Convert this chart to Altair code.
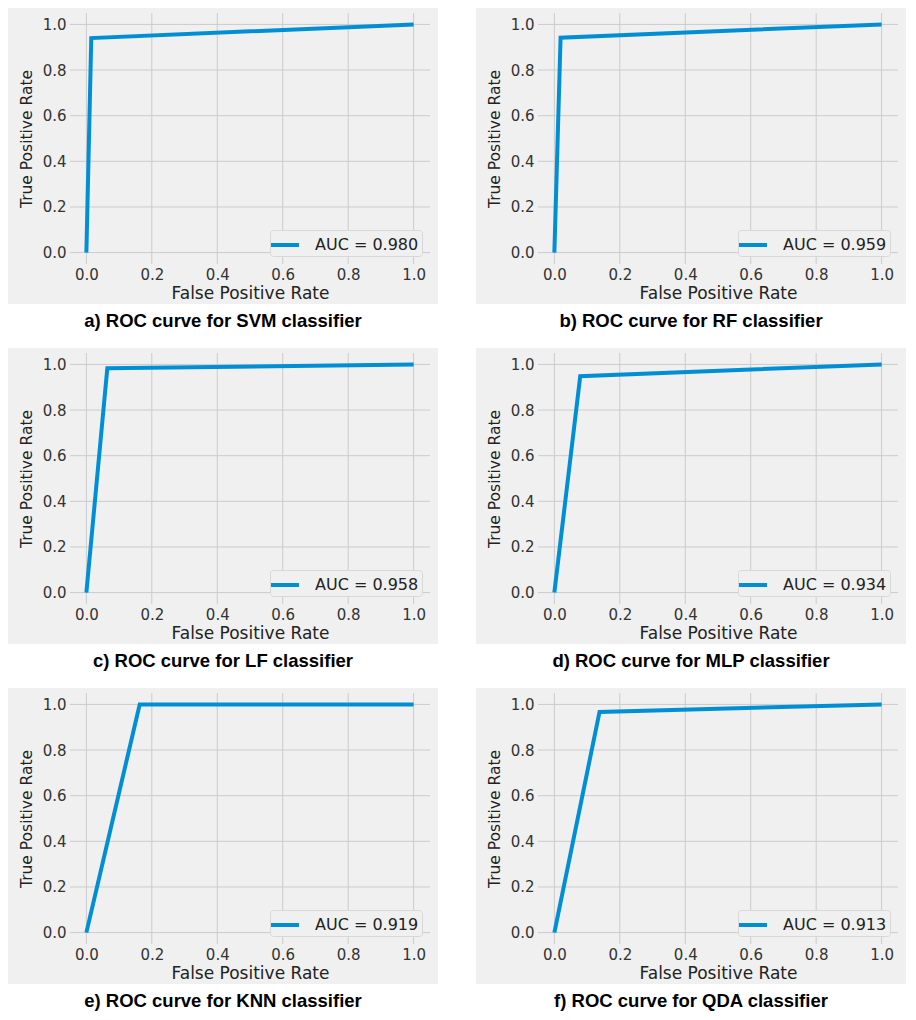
import altair as alt
import pandas as pd

# ---- data ----
captions = [
    "a) ROC curve for SVM classifier",
    "b) ROC curve for RF classifier",
    "c) ROC curve for LF classifier",
    "d) ROC curve for MLP classifier",
    "e) ROC curve for KNN classifier",
    "f) ROC curve for QDA classifier",
]
auc_labels = ["AUC = 0.980", "AUC = 0.959", "AUC = 0.958", "AUC = 0.934", "AUC = 0.919", "AUC = 0.913"]

fpr_svm = [0.0, 0.015, 1.0]
tpr_svm = [0.0, 0.940, 1.0]
fpr_rf = [0.0, 0.019, 1.0]
tpr_rf = [0.0, 0.942, 1.0]
fpr_lf = [0.0, 0.064, 1.0]
tpr_lf = [0.0, 0.983, 1.0]
fpr_mlp = [0.0, 0.079, 1.0]
tpr_mlp = [0.0, 0.948, 1.0]
fpr_knn = [0.0, 0.163, 1.0]
tpr_knn = [0.0, 1.000, 1.0]
fpr_qda = [0.0, 0.138, 1.0]
tpr_qda = [0.0, 0.967, 1.0]

fprs = [fpr_svm, fpr_rf, fpr_lf, fpr_mlp, fpr_knn, fpr_qda]
tprs = [tpr_svm, tpr_rf, tpr_lf, tpr_mlp, tpr_knn, tpr_qda]

tick_values = [0.0, 0.2, 0.4, 0.6, 0.8, 1.0]

# ---- styling ----
W, H = 360, 251
LEFT, RIGHT, TOP, BOTTOM = 62, 8, 5, 40
BG = "#f0f0f0"
GRID = "#cbcbcb"
BLUE = "#008fd5"
FONT = "DejaVu Sans"


def panel(i):
    df = pd.DataFrame({"fpr": fprs[i], "tpr": tprs[i], "label": [auc_labels[i]] * len(fprs[i])})
    ticks = pd.DataFrame({"t": tick_values})
    xs = alt.Scale(domain=[-0.05, 1.05], nice=False, zero=False)
    ys = alt.Scale(domain=[-0.05, 1.05], nice=False, zero=False)
    common = dict(values=tick_values, format=".1f", domain=False, ticks=False, grid=False, zindex=2,
                  labelFont=FONT, labelFontSize=15, labelColor="#333333",
                  titleFont=FONT, titleFontWeight="normal", titleColor="#222222")
    xaxis = alt.Axis(title="False Positive Rate", labelPadding=3, titlePadding=3,
                     titleFontSize=17, **common)
    yaxis = alt.Axis(title="True Positive Rate", labelPadding=4, titlePadding=8,
                     titleFontSize=15.5, **common)

    bg = alt.Chart(pd.DataFrame({"a": [0]})).mark_rect(fill=BG).encode(
        x=alt.value(-LEFT), x2=alt.value(W + RIGHT),
        y=alt.value(-TOP), y2=alt.value(H + BOTTOM),
    )
    vgrid = alt.Chart(ticks).mark_rule(color=GRID, strokeWidth=1).encode(
        x=alt.X("t:Q", scale=xs, axis=xaxis),
        y=alt.value(0), y2=alt.value(H),
    )
    hgrid = alt.Chart(ticks).mark_rule(color=GRID, strokeWidth=1).encode(
        y=alt.Y("t:Q", scale=ys, axis=yaxis),
        x=alt.value(0), x2=alt.value(W),
    )
    line = alt.Chart(df).mark_line(strokeWidth=4).encode(
        x=alt.X("fpr:Q", scale=xs, axis=xaxis),
        y=alt.Y("tpr:Q", scale=ys, axis=yaxis),
        color=alt.Color(
            "label:N",
            scale=alt.Scale(range=[BLUE]),
            legend=alt.Legend(
                title=None, orient="bottom-right", offset=8,
                symbolType="M-1.4,0H1.4", symbolStrokeWidth=4, symbolSize=400,
                labelFont=FONT, labelFontSize=16, labelColor="#222222",
                labelOffset=18, fillColor=BG, strokeColor="#d8d8d8",
                padding=3, cornerRadius=3,
            ),
        ),
    )
    cap = alt.Chart(pd.DataFrame({"c": [captions[i]]})).mark_text(
        font="Liberation Sans", fontWeight="bold", fontSize=18.5, color="#000000",
        align="center", baseline="middle",
    ).encode(
        text="c:N",
        x=alt.value((W + RIGHT - LEFT) / 2),
        y=alt.value(H + 57),
    )
    return alt.layer(bg, vgrid, hgrid, line, cap).properties(width=W, height=H)


chart = alt.concat(*[panel(i) for i in range(6)], columns=2,
                   spacing={"row": 17, "column": 38}).resolve_scale(
    color="independent"
).properties(padding=0).configure_view(stroke=None)

chart.save("out.html", embed_options={"renderer": "svg", "actions": False})
